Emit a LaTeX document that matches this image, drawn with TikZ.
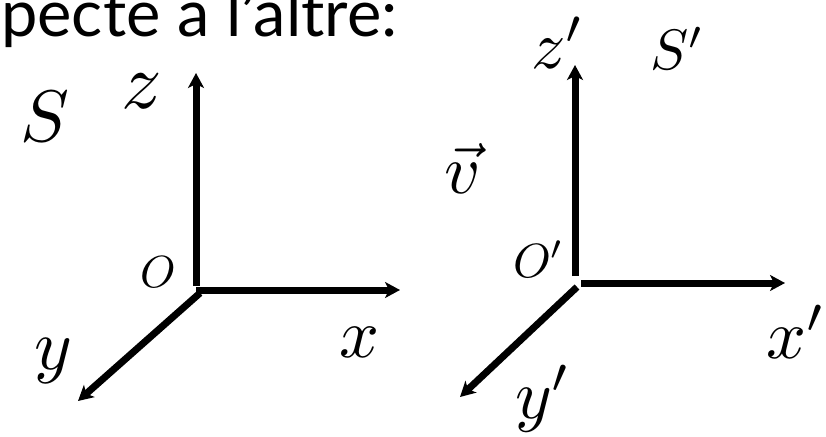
\documentclass[tikz,border=0pt]{standalone}
\usepackage{fontspec}
\setmainfont{Lato}
\usetikzlibrary{arrows.meta}
\tikzset{
  axis/.style={line width=7pt, -{Stealth[length=15pt,width=16pt,inset=4pt]}},
  lbl/.style={inner sep=0pt, outer sep=0pt},
  heading/.style={inner sep=0pt, font=\fontsize{65}{72}\selectfont}
}
\begin{document}
\begin{tikzpicture}[x=1pt,y=-1pt]
\useasboundingbox (0,0) rectangle (826,436);
\clip (0,0) rectangle (826,436);
\node[heading, anchor=base west] (title) at (1,37) {pecte a l'altre:};
% left frame S
\coordinate (O1z) at (196,286);
\coordinate (O1x) at (196,290);
\coordinate (O1y) at (200,293);
\coordinate (Z1) at (196,73);
\coordinate (X1) at (400,290);
\coordinate (Y1) at (78,401);
\draw[axis] (O1z) -- (Z1);
\draw[axis] (O1x) -- (X1);
\draw[axis] (O1y) -- (Y1);
\node[lbl, scale=7.3, anchor=base] (S) at (45,141) {$S$};
\node[lbl, scale=8, anchor=base] (zl) at (142,108) {$z$};
\node[lbl, scale=4.5, anchor=base] (Ol) at (158,287) {$O$};
\node[lbl, scale=7, anchor=base] (xl) at (359,357) {$x$};
\node[lbl, scale=7.2, anchor=base] (yl) at (53,369) {$y$};
% right frame S'
\coordinate (O2z) at (575,276);
\coordinate (O2x) at (581,283);
\coordinate (O2y) at (577,287);
\coordinate (Z2) at (575,65);
\coordinate (X2) at (785,283);
\coordinate (Y2) at (460,397);
\draw[axis] (O2z) -- (Z2);
\draw[axis] (O2x) -- (X2);
\draw[axis] (O2y) -- (Y2);
\node[lbl, scale=6.8, anchor=base west] (zp) at (531,68) {$z'$};
\node[lbl, scale=5.7, anchor=base west] (Sp) at (650,70) {$S'$};
\node[lbl, scale=7, anchor=base] (v) at (463,193) {$\vec{v}$};
\node[lbl, scale=4.8, anchor=base west] (Op) at (513,277) {$O'$};
\node[lbl, scale=7, anchor=base west] (xp) at (766,358) {$x'$};
\node[lbl, scale=7, anchor=base west] (yp) at (515,418) {$y'$};
\end{tikzpicture}
\end{document}
